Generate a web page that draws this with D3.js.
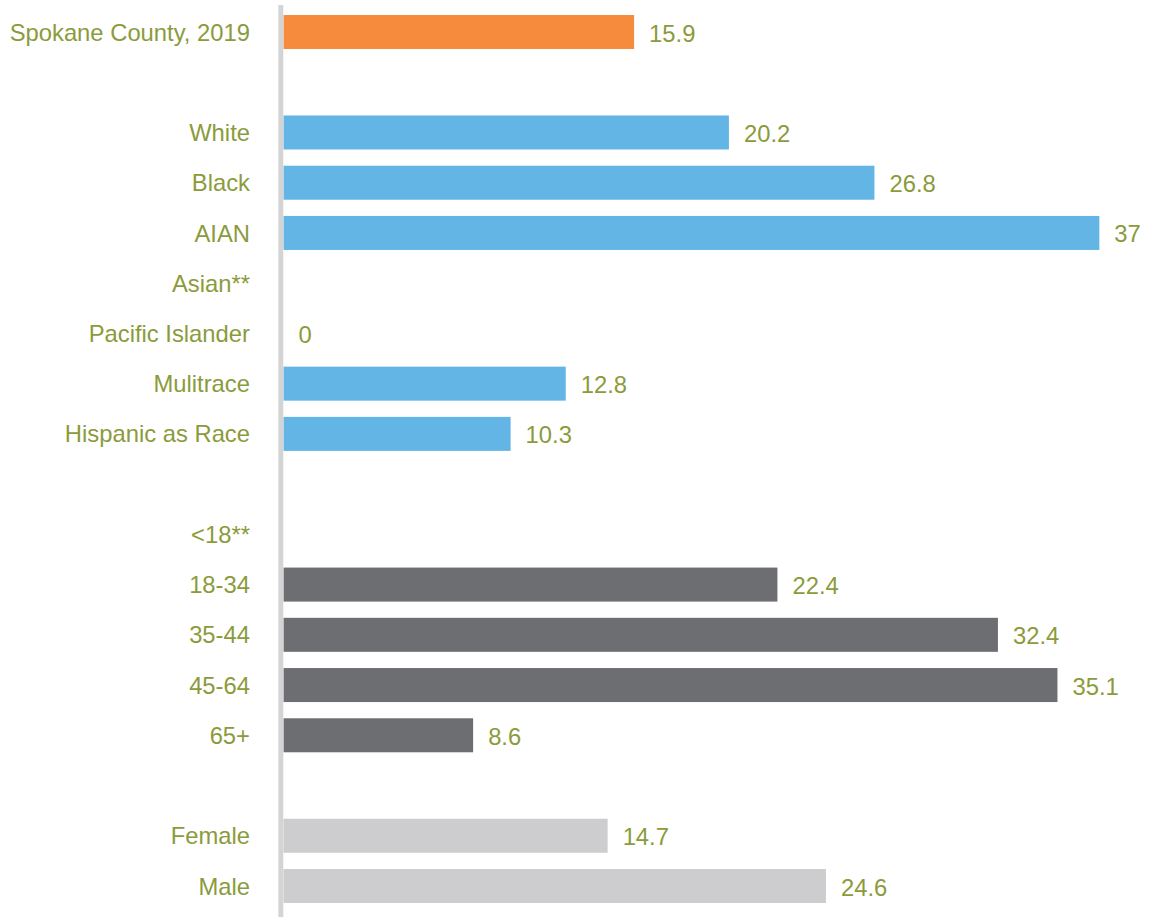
<!DOCTYPE html>
<html>
<head>
<meta charset="utf-8">
<title>Spokane County 2019</title>
<script src="https://d3js.org/d3.v7.min.js"></script>
<style>
body { margin: 0; background: #fff; font-family: "Liberation Sans", Arial, sans-serif; }
.lbl { fill: #8b9b3c; font-size: 23.8px; }
</style>
</head>
<body>
<script>
// rows top to bottom, "" = gap row
var categories = ["Spokane County, 2019", "", "White", "Black", "AIAN", "Asian**", "Pacific Islander",
    "Mulitrace", "Hispanic as Race", "", "<18**", "18-34", "35-44", "45-64", "65+", "", "Female", "Male"];
var values = [15.9, null, 20.2, 26.8, 37, null, 0, 12.8, 10.3, null, null, 22.4, 32.4, 35.1, 8.6, null, 14.7, 24.6];
var groups = ["county", "", "race", "race", "race", "race", "race", "race", "race", "", "age", "age", "age", "age", "age", "", "sex", "sex"];
var groupColors = { county: "#f78b3d", race: "#63b5e6", age: "#6d6e71", sex: "#cdcdcf" };

var width = 1149, height = 917;

var svg = d3.select("body").append("svg")
    .attr("width", width)
    .attr("height", height);

var x = d3.scaleLinear()
    .domain([0, 37])
    .range([283.5, 283.5 + 37 * 22.05]);

var y = d3.scaleBand()
    .domain(d3.range(categories.length))
    .range([6.9, 911.1])
    .paddingInner(0.323)
    .paddingOuter(0.1615);

// bars + value labels (skip the rows with no data)
values.forEach(function(v, i) {
    if (v == null) return;
    svg.append("rect")
        .attr("x", x(0))
        .attr("y", y(i))
        .attr("height", y.bandwidth())
        .attr("width", x(v) - x(0))
        .attr("fill", groupColors[groups[i]]);
    svg.append("text")
        .attr("class", "lbl")
        .attr("x", x(v) + 15)
        .attr("y", y(i) + y.bandwidth() / 2)
        .attr("dy", "0.4em")
        .text(v);
});

// category labels
svg.append("g").selectAll("text")
    .data(categories)
    .enter()
    .append("text")
    .attr("class", "lbl")
    .attr("text-anchor", "end")
    .attr("x", 250)
    .attr("y", function(d, i) { return y(i) + y.bandwidth() / 2; })
    .attr("dy", "0.36em")
    .text(function(d) { return d; });

// vertical axis line
svg.append("line")
    .attr("x1", x(0) - 2.7).attr("x2", x(0) - 2.7)
    .attr("y1", 5).attr("y2", height)
    .attr("stroke", "#d4d4d4")
    .attr("stroke-width", 5);
</script>
</body>
</html>
